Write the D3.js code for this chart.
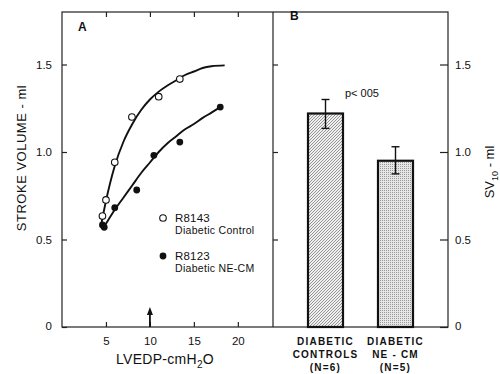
<!DOCTYPE html>
<html>
<head>
<meta charset="utf-8">
<script src="https://cdn.jsdelivr.net/npm/d3@7"></script>
<style>
  body { margin: 0; background: #fff; }
  text { font-family: "Liberation Sans", Arial, sans-serif; fill: #111; }
</style>
</head>
<body>
<svg id="svg" width="500" height="374"></svg>
<script>
// panel A: open circles = R8143 diabetic control, filled = R8123 diabetic NE-CM
const ctrlX = [4.6, 5.0, 6.0, 7.95, 11.0, 13.4];
const ctrlY = [0.634, 0.726, 0.941, 1.20, 1.316, 1.417];
const necmX = [4.6, 4.8, 6.0, 8.5, 10.45, 13.4, 18.0];
const necmY = [0.583, 0.57, 0.682, 0.783, 0.981, 1.057, 1.257];

// hand fitted curves
const ctrlFitX = [4.4, 5, 6, 7, 8, 9, 10, 11, 12, 13, 14, 15, 16, 17, 18.5];
const ctrlFitY = [0.57, 0.72, 0.92, 1.06, 1.16, 1.24, 1.30, 1.345, 1.38, 1.41, 1.44, 1.46, 1.48, 1.49, 1.495];
const necmFitX = [4.6, 5, 6, 7, 8, 9, 10, 11, 12, 13, 14, 15, 16, 17, 17.8];
const necmFitY = [0.56, 0.59, 0.67, 0.74, 0.81, 0.88, 0.94, 1.0, 1.05, 1.09, 1.13, 1.16, 1.195, 1.225, 1.25];

const xTicks = [5, 10, 15, 20];
const yTicks = [0, 0.5, 1.0, 1.5];

// panel B
const groups = ["controls", "necm"];
const groupLines = [["DIABETIC", "CONTROLS", "(N=6)"], ["DIABETIC", "NE - CM", "(N=5)"]];
const sv10 = [1.22, 0.95];
const sv10Hi = [1.30, 1.03];
const sv10Lo = [1.135, 0.875];

const svg = d3.select("#svg");
const x = d3.scaleLinear().domain([0, 24]).range([62, 273]);
const y = d3.scaleLinear().domain([0, 1.8]).range([327, 12]);
const xb = d3.scaleBand().domain(groups).range([273, 448]).padding(0.5);

const defs = svg.append("defs");
const hatch = defs.append("pattern").attr("id", "hatch")
  .attr("patternUnits", "userSpaceOnUse").attr("width", 3).attr("height", 3);
hatch.append("rect").attr("width", 3).attr("height", 3).attr("fill", "#f0f0f0");
hatch.append("path").attr("d", "M-1,1 L1,-1 M0,3 L3,0 M2,4 L4,2")
  .attr("stroke", "#555").attr("stroke-width", 0.6);
const dots = defs.append("pattern").attr("id", "dots")
  .attr("patternUnits", "userSpaceOnUse").attr("width", 2).attr("height", 2);
dots.append("rect").attr("width", 2).attr("height", 2).attr("fill", "#e6e6e6");
dots.append("rect").attr("width", 1).attr("height", 1).attr("fill", "#999");

// frame
svg.append("rect").attr("x", 62).attr("y", 12).attr("width", 386).attr("height", 315)
  .attr("fill", "none").attr("stroke", "#222").attr("stroke-width", 1.2);
svg.append("line").attr("x1", 273).attr("x2", 273).attr("y1", 12).attr("y2", 327)
  .attr("stroke", "#222").attr("stroke-width", 1.2);

function clean(g) {
  g.select(".domain").remove();
  g.selectAll("line").attr("stroke", "#222").attr("stroke-width", 1.2);
  g.selectAll("text").attr("font-size", 11.5).attr("fill", "#111")
    .attr("font-family", "Liberation Sans, Arial, sans-serif");
}
const fmt = (d) => (d === 0 ? "0" : d3.format(".1f")(d));

svg.append("g").attr("transform", "translate(0,327)")
  .call(d3.axisBottom(x).tickValues(xTicks).tickSize(-5).tickPadding(10))
  .call(clean);
svg.append("g").attr("transform", "translate(0,12)")
  .call(d3.axisTop(x).tickValues(xTicks).tickSize(-5).tickFormat(""))
  .call(clean);
svg.append("g").attr("transform", "translate(62,0)")
  .call(d3.axisLeft(y).tickValues(yTicks).tickSize(-5).tickPadding(10).tickFormat(fmt))
  .call(clean);
svg.append("g").attr("transform", "translate(273,0)")
  .call(d3.axisLeft(y).tickValues(yTicks.slice(1)).tickSize(-5).tickFormat(""))
  .call(clean);
svg.append("g").attr("transform", "translate(448,0)")
  .call(d3.axisRight(y).tickValues(yTicks).tickSize(-8).tickPadding(7).tickFormat(fmt))
  .call(clean);
svg.selectAll("g.tick text").filter((d) => d === 0).attr("dy", "0.2em");

// fitted curves
const line = d3.line().x((d) => x(d[0])).y((d) => y(d[1])).curve(d3.curveMonotoneX);
[[ctrlFitX, ctrlFitY], [necmFitX, necmFitY]].forEach(([xs, ys]) => {
  svg.append("path").datum(d3.zip(xs, ys)).attr("d", line)
    .attr("fill", "none").attr("stroke", "#111").attr("stroke-width", 1.9);
});

svg.selectAll(".ctrl").data(d3.zip(ctrlX, ctrlY)).enter().append("circle")
  .attr("cx", (d) => x(d[0])).attr("cy", (d) => y(d[1])).attr("r", 3.3)
  .attr("fill", "#fff").attr("stroke", "#111").attr("stroke-width", 1.1);
svg.selectAll(".necm").data(d3.zip(necmX, necmY)).enter().append("circle")
  .attr("cx", (d) => x(d[0])).attr("cy", (d) => y(d[1])).attr("r", 3.4)
  .attr("fill", "#111");

// arrow at LVEDP = 10
const ax = x(10);
svg.append("line").attr("x1", ax).attr("x2", ax).attr("y1", y(0)).attr("y2", y(0) - 14)
  .attr("stroke", "#111").attr("stroke-width", 1.8);
svg.append("path")
  .attr("d", `M${ax},${y(0) - 20} L${ax - 3},${y(0) - 12} L${ax + 3},${y(0) - 12} Z`)
  .attr("fill", "#111");

// legend
svg.append("circle").attr("cx", 163).attr("cy", 218).attr("r", 3.3)
  .attr("fill", "#fff").attr("stroke", "#111").attr("stroke-width", 1.1);
svg.append("circle").attr("cx", 163).attr("cy", 256).attr("r", 3.4).attr("fill", "#111");
const legTxt = [["R8143", 222], ["Diabetic Control", 234], ["R8123", 260], ["Diabetic NE-CM", 272]];
svg.selectAll(".leg").data(legTxt).enter().append("text")
  .attr("x", 175).attr("y", (d) => d[1]).attr("font-size", (d, i) => (i % 2 ? 10.5 : 11.5))
  .attr("letter-spacing", (d, i) => (i % 2 ? 0.3 : 0.2))
  .text((d) => d[0]);

// panel B bars
svg.selectAll(".bar").data(groups).enter().append("rect")
  .attr("x", (d) => xb(d)).attr("width", xb.bandwidth())
  .attr("y", (d, i) => y(sv10[i])).attr("height", (d, i) => y(0) - y(sv10[i]))
  .attr("fill", (d, i) => (i === 0 ? "url(#hatch)" : "url(#dots)"))
  .attr("stroke", "#111").attr("stroke-width", 2.2);
groups.forEach((g, i) => {
  const cx = xb(g) + xb.bandwidth() / 2;
  const eb = svg.append("g").attr("stroke", "#111").attr("stroke-width", 1.4);
  eb.append("line").attr("x1", cx).attr("x2", cx).attr("y1", y(sv10Hi[i])).attr("y2", y(sv10Lo[i]));
  eb.append("line").attr("x1", cx - 4).attr("x2", cx + 4).attr("y1", y(sv10Hi[i])).attr("y2", y(sv10Hi[i]));
  eb.append("line").attr("x1", cx - 4).attr("x2", cx + 4).attr("y1", y(sv10Lo[i])).attr("y2", y(sv10Lo[i]));
  svg.append("text").attr("text-anchor", "middle").attr("font-size", 10).attr("font-weight", "bold")
    .attr("letter-spacing", 1.2)
    .selectAll("tspan").data(groupLines[i]).enter().append("tspan")
    .attr("x", cx).attr("y", (d, j) => 345 + j * 13).text((d) => d);
});
svg.append("text").attr("x", 345).attr("y", 97).attr("font-size", 11).text("p< 005");

// panel letters and axis titles
svg.append("text").attr("x", 78).attr("y", 31).attr("font-size", 12).attr("font-weight", "bold").text("A");
svg.append("text").attr("x", 290).attr("y", 20).attr("font-size", 12).attr("font-weight", "bold").text("B");
svg.append("text").attr("transform", "translate(26,158) rotate(-90)").attr("text-anchor", "middle")
  .attr("font-size", 13).attr("letter-spacing", 0.5).text("STROKE VOLUME - ml");
const xl = svg.append("text").attr("x", 165).attr("y", 364).attr("text-anchor", "middle")
  .attr("font-size", 14).attr("letter-spacing", 0.3);
xl.append("tspan").text("LVEDP-cmH");
xl.append("tspan").attr("font-size", 10).attr("dy", 4).text("2");
xl.append("tspan").attr("dy", -4).text("O");
const yl = svg.append("text").attr("transform", "translate(494,172) rotate(-90)").attr("text-anchor", "middle")
  .attr("font-size", 13);
yl.append("tspan").text("SV");
yl.append("tspan").attr("font-size", 9).attr("dy", 4).text("10");
yl.append("tspan").attr("dy", -4).text(" - ml");
</script>
</body>
</html>
